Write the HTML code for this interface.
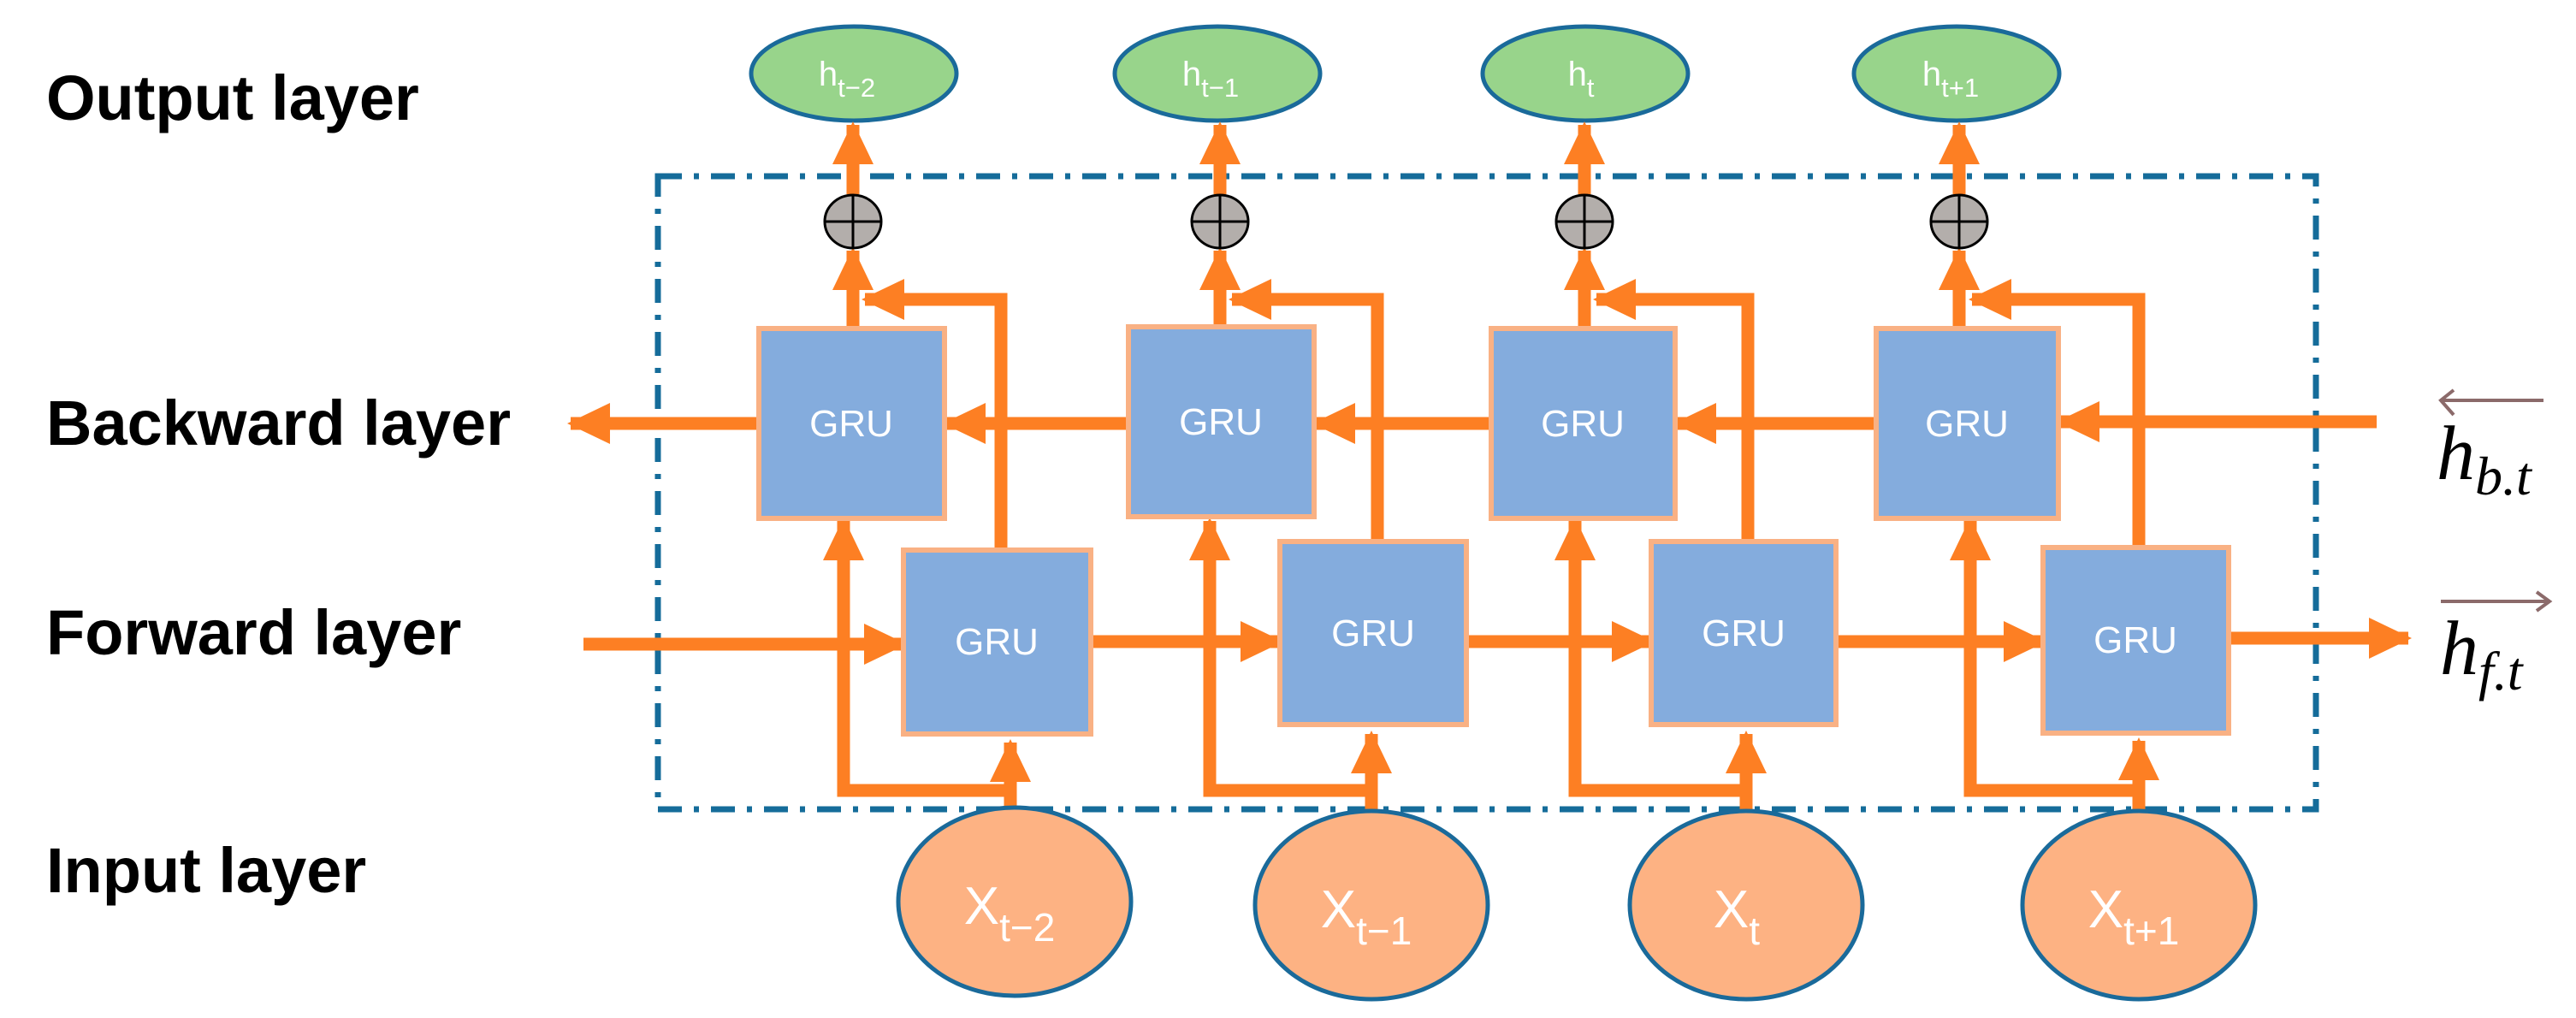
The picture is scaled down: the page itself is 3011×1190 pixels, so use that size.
<!DOCTYPE html>
<html><head><meta charset="utf-8"><style>
html,body{margin:0;padding:0;background:#fff;}
svg{display:block;}
</style></head><body>
<svg width="3011" height="1190" viewBox="0 0 3011 1190" xmlns="http://www.w3.org/2000/svg">
<defs>
<marker id="ah" viewBox="0 0 50 48" refX="46" refY="24" markerWidth="50" markerHeight="48" markerUnits="userSpaceOnUse" orient="auto">
<path d="M0,0 L50,24 L0,48 z" fill="#fd7f23"/>
</marker>
</defs>
<g font-family="Liberation Sans, sans-serif" font-weight="bold" font-size="74" fill="#000">
<text x="54" y="140">Output layer</text>
<text x="54" y="520">Backward layer</text>
<text x="54" y="765">Forward layer</text>
<text x="54" y="1043">Input layer</text>
</g>
<rect x="769" y="206" width="1938" height="740" fill="none" stroke="#156c9a" stroke-width="7" stroke-dasharray="28,14,6,14"/>
<g fill="#98d48b" stroke="#1a6a9a" stroke-width="5">
<ellipse cx="998" cy="86" rx="120" ry="55"/>
<ellipse cx="1423" cy="86" rx="120" ry="55"/>
<ellipse cx="1853" cy="86" rx="120" ry="55"/>
<ellipse cx="2287" cy="86" rx="120" ry="55"/>
</g>
<g font-family="Liberation Sans, sans-serif" fill="#fff" font-size="40" text-anchor="middle">
<text x="990" y="100">h<tspan font-size="31" dy="13">t−2</tspan></text>
<text x="1415" y="100">h<tspan font-size="31" dy="13">t−1</tspan></text>
<text x="1848" y="100">h<tspan font-size="31" dy="13">t</tspan></text>
<text x="2280" y="100">h<tspan font-size="31" dy="13">t+1</tspan></text>
</g>
<g fill="none" stroke="#fd7f23" stroke-width="15" marker-end="url(#ah)">
<path d="M997,384 V293"/><path d="M997,227 V146"/>
<path d="M1426,384 V293"/><path d="M1426,227 V146"/>
<path d="M1852,384 V293"/><path d="M1852,227 V146"/>
<path d="M2290,384 V293"/><path d="M2290,227 V146"/>
<path d="M1170,643 V350 H1011"/>
<path d="M1610,633 V350 H1440"/>
<path d="M2043,633 V350 H1866"/>
<path d="M2500,640 V350 H2305"/>
<path d="M1181,950 V868"/>
<path d="M1603,950 V858"/>
<path d="M2041,950 V858"/>
<path d="M2500,950 V866"/>
<path d="M1181,924 H986 V609"/>
<path d="M1603,924 H1414 V609"/>
<path d="M2041,924 H1841 V609"/>
<path d="M2500,924 H2303 V609"/>
<path d="M682,753 H1056"/>
<path d="M1275,750 H1496"/>
<path d="M1714,750 H1930"/>
<path d="M2146,750 H2388"/>
<path d="M2605,746 H2815"/>
<path d="M2778,493 H2408"/>
<path d="M2193,495 H1960"/>
<path d="M1743,495 H1538"/>
<path d="M1319,495 H1106"/>
<path d="M887,495 H667"/>
</g>
<g stroke="#000" stroke-width="3" fill="#b3aeab">
<ellipse cx="997" cy="259" rx="33" ry="31"/>
<ellipse cx="1426" cy="259" rx="33" ry="31"/>
<ellipse cx="1852" cy="259" rx="33" ry="31"/>
<ellipse cx="2290" cy="259" rx="33" ry="31"/>
<path d="M964,259 H1030 M997,228 V290 M1393,259 H1459 M1426,228 V290 M1819,259 H1885 M1852,228 V290 M2257,259 H2323 M2290,228 V290" fill="none"/>
</g>
<g fill="#84acdd" stroke="#f9b184" stroke-width="6">
<rect x="887" y="384" width="217" height="222"/>
<rect x="1319" y="382" width="217" height="222"/>
<rect x="1743" y="384" width="215" height="222"/>
<rect x="2193" y="384" width="213" height="222"/>
<rect x="1056" y="643" width="219" height="215"/>
<rect x="1496" y="633" width="218" height="214"/>
<rect x="1930" y="633" width="216" height="214"/>
<rect x="2388" y="640" width="217" height="217"/>
</g>
<g font-family="Liberation Sans, sans-serif" fill="#fff" font-size="44" text-anchor="middle">
<text x="995" y="510">GRU</text>
<text x="1427" y="508">GRU</text>
<text x="1850" y="510">GRU</text>
<text x="2299" y="510">GRU</text>
<text x="1165" y="765">GRU</text>
<text x="1605" y="755">GRU</text>
<text x="2038" y="755">GRU</text>
<text x="2496" y="763">GRU</text>
</g>
<g fill="#fdb283" stroke="#1a6a9a" stroke-width="5">
<ellipse cx="1186" cy="1054" rx="136" ry="110"/>
<ellipse cx="1603" cy="1058" rx="136" ry="110"/>
<ellipse cx="2041" cy="1058" rx="136" ry="110"/>
<ellipse cx="2500" cy="1058" rx="136" ry="110"/>
</g>
<g font-family="Liberation Sans, sans-serif" fill="#fff" font-size="62" text-anchor="middle">
<text x="1180" y="1080">X<tspan font-size="46" dy="20">t−2</tspan></text>
<text x="1597" y="1084">X<tspan font-size="46" dy="20">t−1</tspan></text>
<text x="2030" y="1084">X<tspan font-size="46" dy="20">t</tspan></text>
<text x="2494" y="1084">X<tspan font-size="46" dy="20">t+1</tspan></text>
</g>
<g stroke="#8b6a6a" stroke-width="4" fill="none">
<path d="M2853,468 H2973 M2868,456 L2853,468 L2868,485"/>
<path d="M2853,703 H2980 M2965,692 L2980,703 L2965,714"/>
</g>
<g font-family="Liberation Serif, serif" font-style="italic" font-size="90" fill="#000">
<text x="2848" y="560">h<tspan font-size="64" dy="18">b.t</tspan></text>
<text x="2852" y="788">h<tspan font-size="64" dy="18">f.t</tspan></text>
</g>
</svg>
</body></html>
